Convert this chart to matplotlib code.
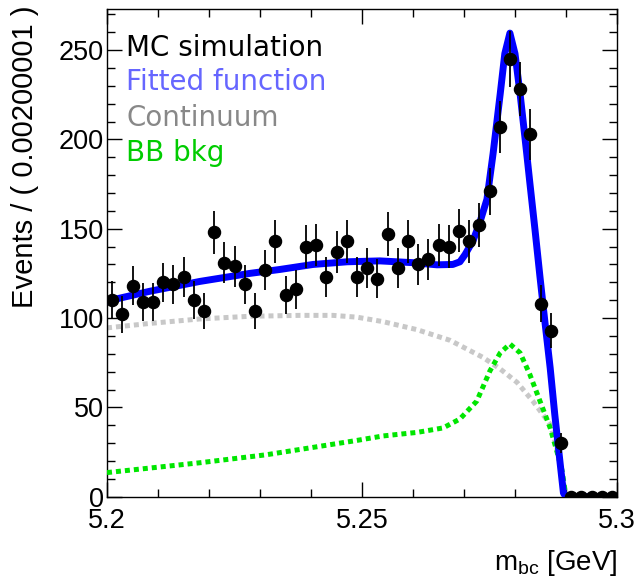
import numpy as np
import matplotlib
matplotlib.use("Agg")
import matplotlib.pyplot as plt
from matplotlib.ticker import MultipleLocator, FixedLocator, FixedFormatter

plt.rcParams['mathtext.fontset'] = 'custom'
plt.rcParams['mathtext.rm'] = 'Liberation Sans'
plt.rcParams['mathtext.it'] = 'Liberation Sans:italic'

# ---------------- data ----------------
bin_lo = 5.2
bin_width = 0.002
counts = [110, 102, 118, 109, 109, 120, 119, 123, 110, 104,
          148, 131, 129, 119, 104, 127, 143, 113, 116, 140,
          141, 123, 137, 143, 123, 128, 122, 147, 128, 143,
          130, 133, 141, 140, 149, 143, 152, 171, 207, 245,
          228, 203, 108, 93, 30, 0, 0, 0, 0, 0]

fit_x = [5.2000, 5.2084, 5.2182, 5.2280, 5.2339, 5.2404, 5.2471, 5.2535,
         5.2600, 5.2647, 5.2678, 5.2692, 5.2702, 5.2718, 5.2731, 5.2745,
         5.2757, 5.2771, 5.2780, 5.2790, 5.2800, 5.2810, 5.2823, 5.2829,
         5.2839, 5.2849, 5.2859, 5.2869, 5.2878, 5.2888, 5.2895, 5.2900, 5.3000]
fit_y = [109.5, 115, 120.5, 125, 127.2, 130, 131.5, 132,
         131, 129.8, 130, 131.5, 135.5, 143.5, 153.5, 166.5,
         192, 225.5, 248, 259.5, 248, 225.5, 192, 176,
         150, 123, 97, 72, 46, 20, 2, 0, 0]

cont_x = [5.2000, 5.2084, 5.2182, 5.2280, 5.2378, 5.2443, 5.2490, 5.2541,
          5.2608, 5.2673, 5.2737, 5.2771, 5.2804, 5.2835, 5.2869, 5.2878,
          5.2888, 5.2892, 5.2900]
cont_y = [94.5, 97, 99.5, 101, 101.5, 101.5, 100.5, 98,
          93.5, 87.5, 78, 71.5, 64, 53.5, 40.5, 31.5,
          20, 13, 0]

bb_x = [5.2000, 5.2182, 5.2313, 5.2490, 5.2541, 5.2608, 5.2659, 5.2692,
        5.2725, 5.2751, 5.2771, 5.2790, 5.2810, 5.2829, 5.2849, 5.2869,
        5.2882, 5.2892, 5.2900]
bb_y = [13.5, 19, 23.5, 31.5, 34, 36, 38.5, 43.5,
        53.5, 70.5, 80.5, 85.5, 80.5, 68.5, 53.5, 38.5,
        25.5, 15, 0]

legend_labels = ["MC simulation", "Fitted function", "Continuum", "BB bkg"]
legend_colors = ["#000000", "#6666ff", "#888888", "#00cc00"]

x_ticks = [5.2, 5.25, 5.3]
x_tick_labels = ["5.2", "5.25", "5.3"]
y_ticks = [0, 50, 100, 150, 200, 250]
y_tick_labels = ["0", "50", "100", "150", "200", "250"]

# ---------------- figure ----------------
W, H = 636, 583
fig = plt.figure(figsize=(W / 100, H / 100), dpi=100)
ax_l, ax_r, ax_t, ax_b = 107, 617, 9, 496.7
ax = fig.add_axes([ax_l / W, 1 - ax_b / H, (ax_r - ax_l) / W, (ax_b - ax_t) / H])

centers = bin_lo + bin_width * (np.arange(len(counts)) + 0.5)
cnt = np.array(counts, dtype=float)
err = np.sqrt(cnt)

ax.plot(cont_x, cont_y, color="#c8c8c8", lw=3.6, linestyle=(0, (1.0, 0.8)),
        dash_capstyle='butt', zorder=2)
ax.plot(bb_x, bb_y, color="#00e600", lw=3.6, linestyle=(0, (1.0, 0.8)),
        dash_capstyle='butt', zorder=3)
ax.plot(fit_x, fit_y, color="#0000ff", lw=5.0, solid_joinstyle='round', zorder=4)
ax.errorbar(centers, cnt, yerr=err, fmt='o', color='black', ms=8.7,
            elinewidth=1.3, capsize=0, zorder=5)

ax.set_xlim(5.2, 5.3)
ax.set_ylim(0, 273)

ax.xaxis.set_major_locator(FixedLocator(x_ticks))
ax.xaxis.set_major_formatter(FixedFormatter(x_tick_labels))
ax.xaxis.set_minor_locator(MultipleLocator(0.01))
ax.yaxis.set_major_locator(FixedLocator(y_ticks))
ax.yaxis.set_major_formatter(FixedFormatter(y_tick_labels))
ax.yaxis.set_minor_locator(MultipleLocator(10))

ax.tick_params(which='both', direction='in', top=True, right=True, width=1.0,
               colors='black')
ax.tick_params(which='major', length=11)
ax.tick_params(which='minor', length=6)
ax.tick_params(axis='y', which='major', pad=2)
ax.tick_params(axis='x', which='major', pad=8)
for lab in ax.get_xticklabels() + ax.get_yticklabels():
    lab.set_fontfamily('Liberation Sans')
    lab.set_fontsize(19.5)
for s in ax.spines.values():
    s.set_linewidth(1.0)

fig.text(25 / W, 1 - 5 / H, "Events / ( 0.00200001 )", rotation=90,
         ha='center', va='top', fontsize=21, family='Liberation Sans')
fig.text(617 / W, 1 - 563 / H, r"m$_{\mathrm{bc}}$ [GeV]", ha='right',
         va='center', fontsize=20, family='Liberation Sans')

leg_y = [48, 82, 118, 153]
for lab, col, yy in zip(legend_labels, legend_colors, leg_y):
    fig.text(126 / W, 1 - yy / H, lab, color=col, ha='left', va='center',
             fontsize=20, family='DejaVu Sans')

fig.savefig("out.png", dpi=100)
